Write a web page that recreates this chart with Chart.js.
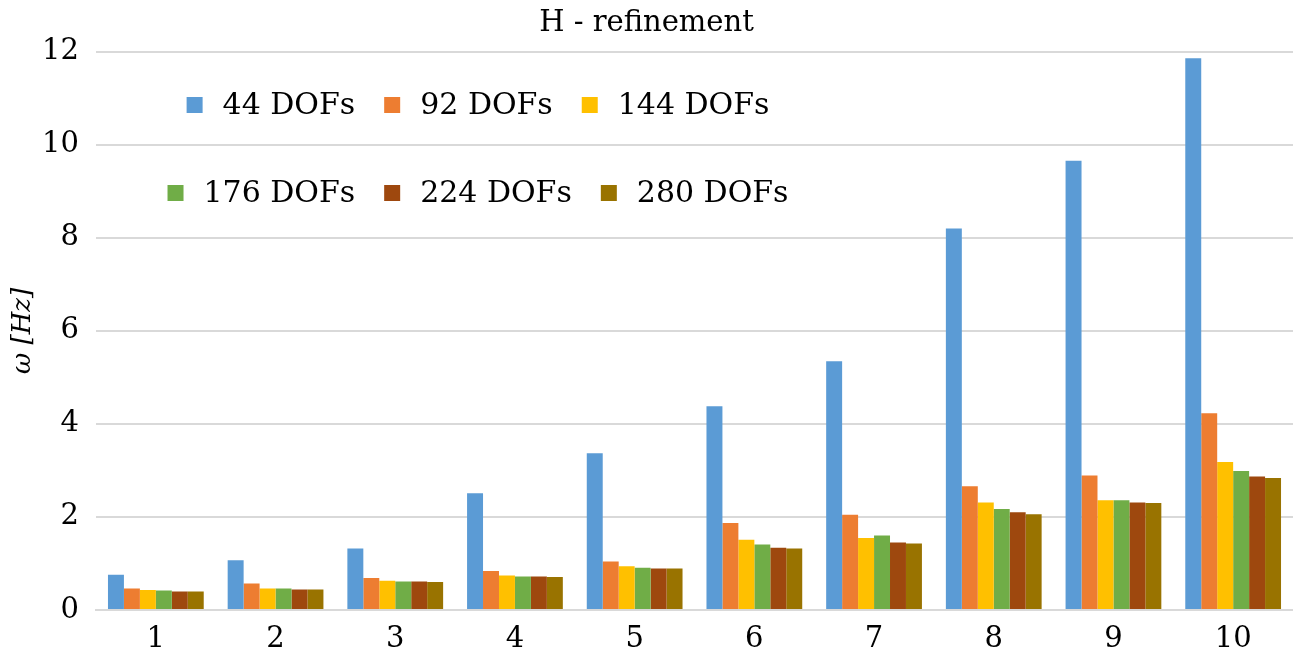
<!DOCTYPE html>
<html>
<head>
<meta charset="utf-8">
<script src="https://cdn.jsdelivr.net/npm/chart.js@4"></script>
<style>
html,body{margin:0;padding:0;background:#fff;}
#wrap{width:1293px;height:659px;position:relative;}
</style>
</head>
<body>
<div id="wrap"><canvas id="c" width="1293" height="659"></canvas></div>
<script>
const categories = ['1','2','3','4','5','6','7','8','9','10'];
const seriesNames = ['44 DOFs','92 DOFs','144 DOFs','176 DOFs','224 DOFs','280 DOFs'];
const s44  = [0.76, 1.07, 1.32, 2.51, 3.37, 4.38, 5.35, 8.20, 9.66, 11.86];
const s92  = [0.46, 0.57, 0.69, 0.84, 1.04, 1.87, 2.05, 2.66, 2.89, 4.23];
const s144 = [0.43, 0.46, 0.63, 0.74, 0.94, 1.51, 1.55, 2.31, 2.36, 3.18];
const s176 = [0.42, 0.46, 0.61, 0.72, 0.91, 1.41, 1.60, 2.17, 2.36, 2.99];
const s224 = [0.40, 0.44, 0.61, 0.72, 0.89, 1.34, 1.45, 2.10, 2.31, 2.87];
const s280 = [0.40, 0.44, 0.60, 0.71, 0.89, 1.32, 1.43, 2.06, 2.30, 2.84];
const colors = ['#5B9BD5','#ED7D31','#FFC000','#70AD47','#9E480E','#997300'];
const allSeries = [s44, s92, s144, s176, s224, s280];

const FONT = "'DejaVu Serif', serif";

const legendPlugin = {
  id: 'customLegend',
  afterDraw(chart) {
    const ctx = chart.ctx;
    const rows = [[0,1,2],[3,4,5]];
    const rowY = [105, 193];
    const centerX = 478;
    const box = 16, gapBox = 20, gapItem = 29;
    ctx.save();
    ctx.font = '30px ' + FONT;
    ctx.textBaseline = 'middle';
    ctx.textAlign = 'left';
    rows.forEach((row, ri) => {
      let total = 0;
      row.forEach((i, k) => {
        total += box + gapBox + ctx.measureText(chart.data.datasets[i].label).width;
        if (k < row.length - 1) total += gapItem;
      });
      let x = centerX - total / 2;
      const y = rowY[ri];
      row.forEach(i => {
        const ds = chart.data.datasets[i];
        ctx.fillStyle = ds.backgroundColor;
        ctx.fillRect(x, y - box / 2, box, box);
        x += box + gapBox;
        ctx.fillStyle = '#000';
        ctx.fillText(ds.label, x, y + 1);
        x += ctx.measureText(ds.label).width + gapItem;
      });
    });
    ctx.restore();
  }
};

new Chart(document.getElementById('c'), {
  type: 'bar',
  data: {
    labels: categories,
    datasets: allSeries.map((d, i) => ({
      label: seriesNames[i],
      data: d,
      backgroundColor: colors[i],
      borderWidth: 0,
      categoryPercentage: 0.8,
      barPercentage: 1.0
    }))
  },
  options: {
    responsive: false,
    animation: false,
    devicePixelRatio: 1,
    layout: { padding: { left: 0, right: 0, top: 0, bottom: 0 } },
    plugins: {
      legend: { display: false },
      tooltip: { enabled: false },
      title: {
        display: true,
        text: 'H - refinement',
        color: '#000',
        font: { family: FONT, size: 29, weight: 'normal' },
        padding: { top: 6, bottom: 11 }
      }
    },
    scales: {
      x: {
        grid: { display: false, drawTicks: false },
        border: { display: true, color: '#d9d9d9', width: 2 },
        ticks: { color: '#000', font: { family: FONT, size: 29 }, padding: 12, maxRotation: 0 },
        afterFit(scale) { scale.height = 49; }
      },
      y: {
        min: 0, max: 12,
        grid: { color: '#d9d9d9', lineWidth: 2, drawTicks: false },
        border: { display: false },
        ticks: { stepSize: 2, color: '#000', font: { family: FONT, size: 29 }, padding: 17 },
        title: {
          display: true,
          text: 'ω [Hz]',
          color: '#000',
          font: { family: FONT, size: 26, style: 'italic' },
          padding: { top: 8, bottom: 0 }
        },
        afterFit(scale) { scale.width = 96; }
      }
    }
  },
  plugins: [legendPlugin]
});
</script>
</body>
</html>
